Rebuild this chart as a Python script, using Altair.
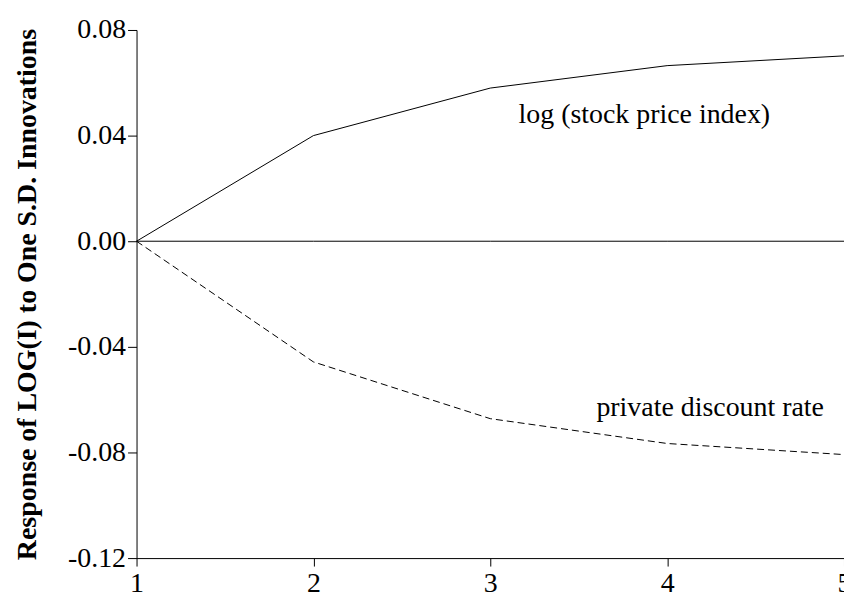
import altair as alt
import pandas as pd

periods = [1, 2, 3, 4, 5]
stock_price = [0.0, 0.040, 0.058, 0.0665, 0.0702]
discount_rate = [0.0, -0.0457, -0.0672, -0.0766, -0.0808]
zero_line = [0.0, 0.0, 0.0, 0.0, 0.0]

label_text = ["log (stock price index)", "private discount rate"]
label_x = [3.16, 3.60]
label_y = [0.0449, -0.0660]

y_ticks = [-0.12, -0.08, -0.04, 0.0, 0.04, 0.08]

df = pd.DataFrame({
    "period": periods * 3,
    "value": stock_price + discount_rate + zero_line,
    "series": ["stock"] * 5 + ["discount"] * 5 + ["zero"] * 5,
})
labels = pd.DataFrame({"text": label_text, "x": label_x, "y": label_y})

FONT = "Liberation Serif"

x_scale = alt.Scale(domain=[1, 5], nice=False)
y_scale = alt.Scale(domain=[-0.12, 0.08], nice=False, zero=False)

x_axis = alt.Axis(values=periods, format="d", title=None, tickSize=8, labelPadding=4)
y_axis = alt.Axis(values=y_ticks, format=".2f",
                  labelExpr="replace(datum.label, '\u2212', '-')",
                  title="Response of LOG(I) to One S.D. Innovations",
                  tickSize=9, labelPadding=2, titlePadding=26)

solid = alt.Chart(df[df.series != "discount"]).mark_line(color="black", strokeWidth=1).encode(
    x=alt.X("period:Q", scale=x_scale, axis=x_axis),
    y=alt.Y("value:Q", scale=y_scale, axis=y_axis),
    detail="series:N")
dashed = alt.Chart(df[df.series == "discount"]).mark_line(
    color="black", strokeWidth=1, strokeDash=[7, 4]).encode(
    x=alt.X("period:Q", scale=x_scale, axis=x_axis),
    y=alt.Y("value:Q", scale=y_scale, axis=y_axis))
text = alt.Chart(labels).mark_text(align="left", baseline="alphabetic", font=FONT,
                                   fontSize=28, color="black").encode(
    x=alt.X("x:Q", scale=x_scale, axis=x_axis),
    y=alt.Y("y:Q", scale=y_scale, axis=y_axis),
    text="text:N")

chart = alt.layer(solid, dashed, text).properties(
    width=710, height=530,
    background="white",
    autosize=alt.AutoSizeParams(type="none"),
    padding={"left": 129, "top": 21, "right": 0, "bottom": 42},
).configure_view(stroke=None).configure_axis(
    grid=False, domainColor="black", tickColor="black",
    labelFont=FONT, labelFontSize=28, labelColor="black", labelFlush=False,
    labelOverlap=False,
    titleFont=FONT, titleFontSize=28, titleFontWeight="bold", titleColor="black",
)

chart.save("out.html", embed_options={"renderer": "svg", "actions": False})
